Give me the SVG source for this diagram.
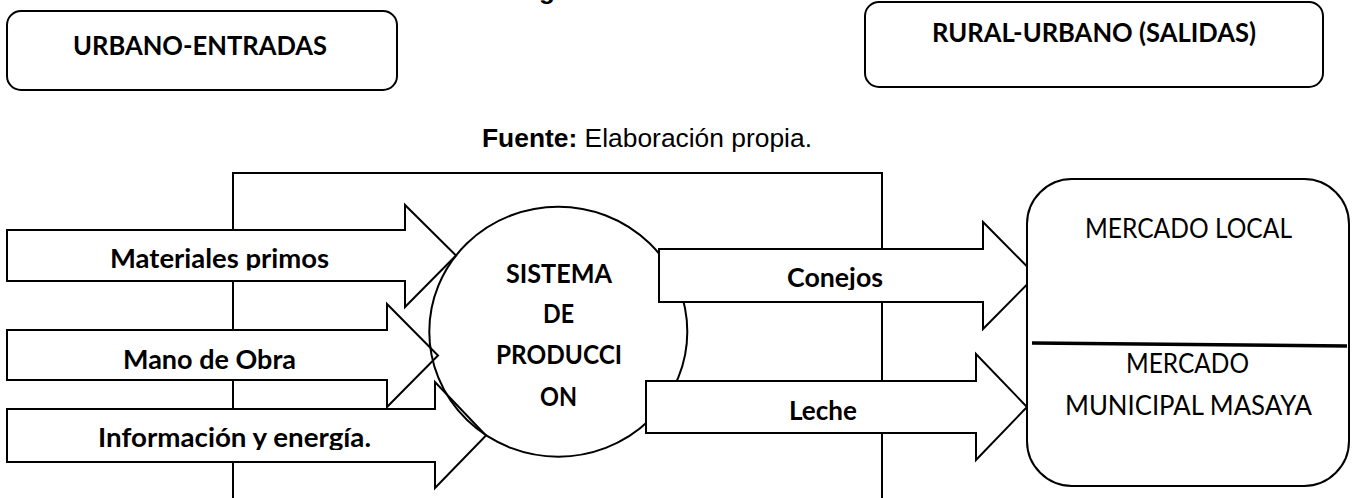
<svg xmlns="http://www.w3.org/2000/svg" width="1353" height="498" viewBox="0 0 1353 498">
<style>
.box{fill:#fff;stroke:#000;stroke-width:2}
.ln{fill:none;stroke:#000;stroke-width:2}
.arr{fill:#fff;stroke:#000;stroke-width:2;stroke-linejoin:miter}
.b{font-family:Lato,"Open Sans",sans-serif;font-weight:bold;font-size:26px;fill:#000}
.r{font-family:Lato,"Open Sans",sans-serif;font-size:26px;fill:#000}
.ar{font-family:"Liberation Sans",Arial,sans-serif;font-size:26px;fill:#000}
</style>
<defs>
<clipPath id="c1"><rect x="0" y="200" width="460" height="70.5"/></clipPath>
<clipPath id="c3"><rect x="0" y="400" width="490" height="50"/></clipPath>
<clipPath id="c4"><rect x="650" y="240" width="400" height="50"/></clipPath>
</defs>
<text class="ar" x="539" y="-1" font-size="28" font-weight="bold">g</text>
<g id="urbano">
<rect class="box" x="7" y="11" width="390" height="79" rx="14"/>
<text class="b" x="73" y="55" textLength="254" lengthAdjust="spacingAndGlyphs">URBANO-ENTRADAS</text>
</g>
<g id="rural">
<rect class="box" x="865" y="2" width="458" height="85" rx="14"/>
<text class="b" x="932" y="42" textLength="324" lengthAdjust="spacingAndGlyphs">RURAL-URBANO (SALIDAS)</text>
</g>
<text class="ar" x="482" y="147" textLength="330" lengthAdjust="spacingAndGlyphs"><tspan font-weight="bold">Fuente:</tspan> Elaboración propia.</text>
<g id="connectors">
<polyline id="frame" class="ln" points="233,500 233,173 882,173 882,500"/>
</g>
<g id="in-materiales">
<polygon class="arr" points="7,230 405,230 405,205 456,255.5 405,307 405,281 7,281"/>
<text class="b" x="110" y="268" clip-path="url(#c1)" textLength="219" lengthAdjust="spacingAndGlyphs">Materiales primos</text>
</g>
<g id="in-mano">
<polygon class="arr" points="7,330 387,330 387,304 438,355.5 387,407 387,380 7,380"/>
<text class="b" x="123" y="369" textLength="173" lengthAdjust="spacingAndGlyphs">Mano de Obra</text>
</g>
<g id="in-info">
<polygon class="arr" points="7,409 435,409 435,382 486,435.5 435,488 435,462 7,462"/>
<text class="b" x="98" y="447" clip-path="url(#c3)" textLength="273" lengthAdjust="spacingAndGlyphs">Información y energía.</text>
</g>
<g id="sistema">
<ellipse class="ln" cx="558.3" cy="331.7" rx="129" ry="125"/>
<text class="b" x="506" y="283" textLength="106" lengthAdjust="spacingAndGlyphs">SISTEMA</text>
<text class="b" x="543" y="323" textLength="31" lengthAdjust="spacingAndGlyphs">DE</text>
<text class="b" x="496" y="364" textLength="126" lengthAdjust="spacingAndGlyphs">PRODUCCI</text>
<text class="b" x="540" y="406" textLength="37" lengthAdjust="spacingAndGlyphs">ON</text>
</g>
<g id="out-conejos">
<polygon class="arr" points="659,249 983,249 983,222 1036,275.5 983,329 983,302 659,302"/>
<text class="b" x="787" y="287" clip-path="url(#c4)" textLength="96" lengthAdjust="spacingAndGlyphs">Conejos</text>
</g>
<g id="out-leche">
<polygon class="arr" points="646,381 976,381 976,354 1027,407 976,460 976,433 646,433"/>
<text class="b" x="789" y="420" textLength="68" lengthAdjust="spacingAndGlyphs">Leche</text>
</g>
<g id="mercados">
<rect class="box" x="1027" y="179" width="322" height="307" rx="45"/>
<line x1="1032" y1="343" x2="1347" y2="346" stroke="#000" stroke-width="3.5"/>
<text class="r" x="1085" y="238" textLength="207" lengthAdjust="spacingAndGlyphs">MERCADO LOCAL</text>
<text class="r" x="1126" y="373" textLength="123" lengthAdjust="spacingAndGlyphs">MERCADO</text>
<text class="r" x="1065" y="415" textLength="247" lengthAdjust="spacingAndGlyphs">MUNICIPAL MASAYA</text>
</g>
</svg>
